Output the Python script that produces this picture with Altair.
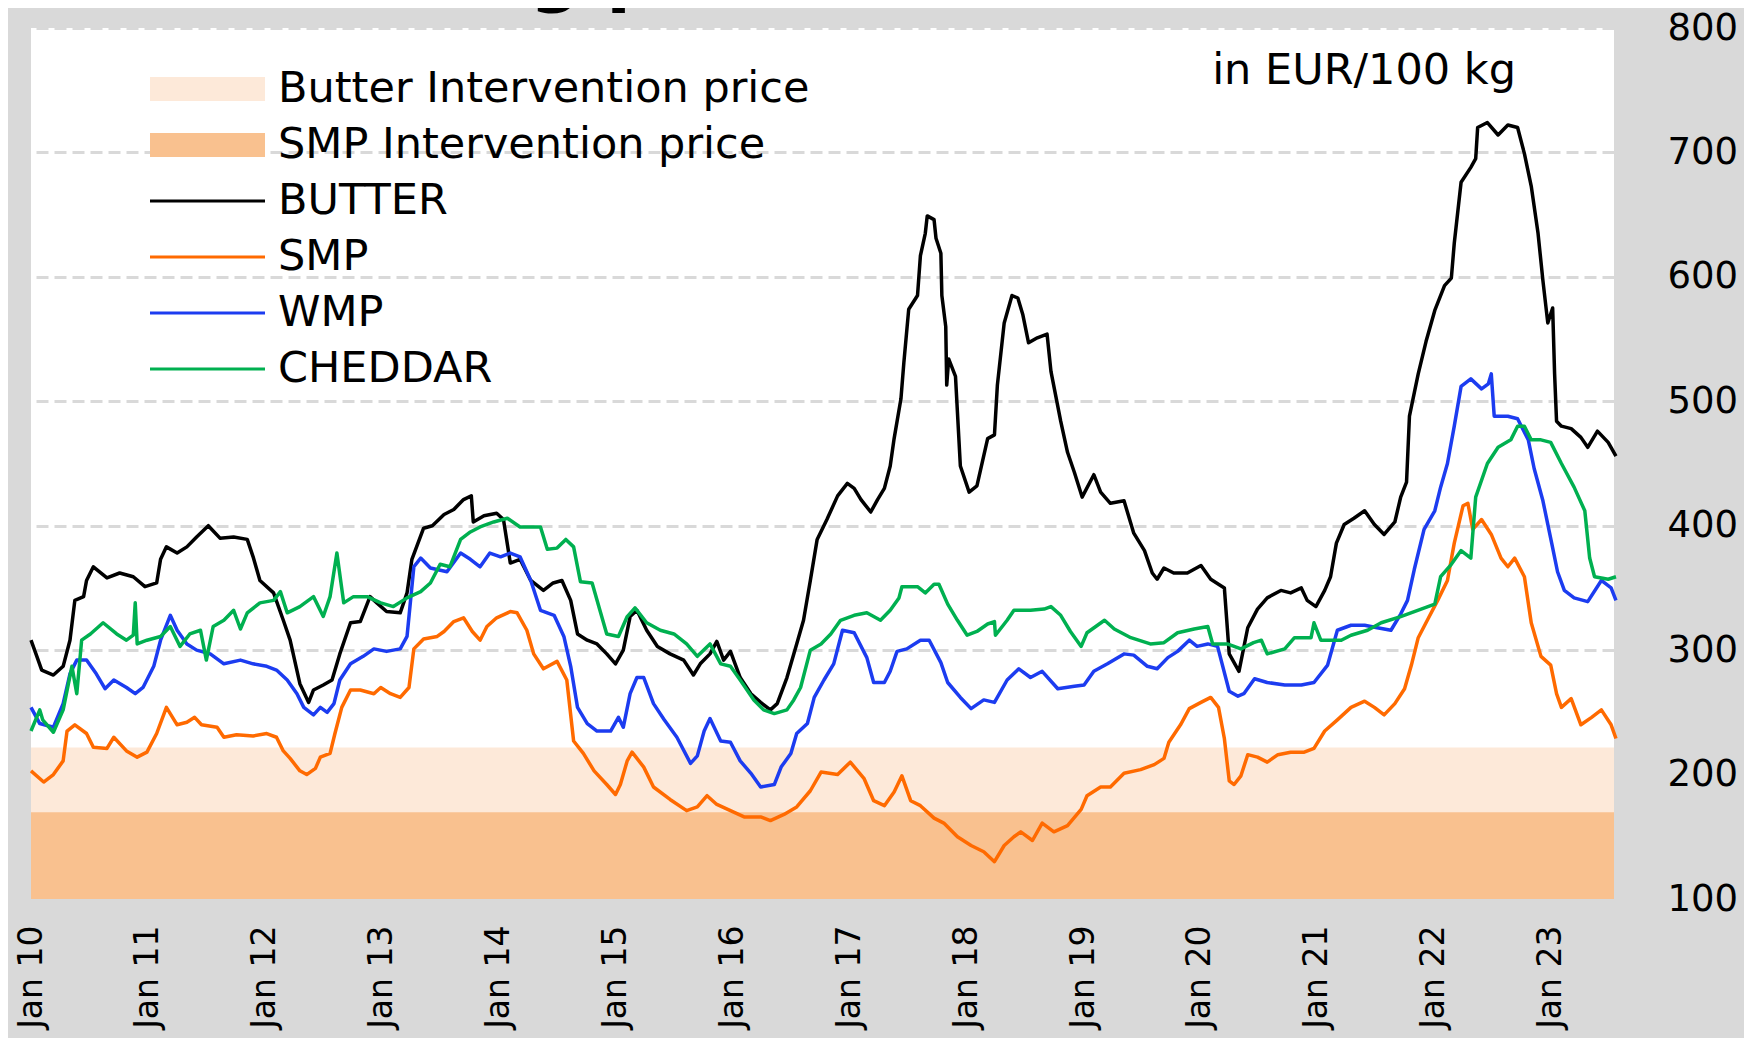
import altair as alt
import numpy as np
import pandas as pd

# ---------------- data (month offsets from Jan 2010, EUR/100 kg) ----------------
butter_m = [0, 0.6, 1.1, 2.3, 3.3, 4, 4.5, 5.4, 5.7, 6.4, 7.8, 9.1, 10.5, 11.7, 12.9, 13.3, 13.9, 15, 16, 17,
            18.2, 19.4, 20.8, 22.2, 22.8, 23.5, 24.9, 25.9, 26.6, 27.6, 28.5, 29, 30, 30.9, 31.7, 32.8, 33.8,
            34.8, 35.5, 36.5, 37.9, 38.6, 39.1, 40.3, 41.2, 42.4, 43.4, 44.4, 45.2, 45.4, 46.5, 47.8, 48.5,
            49.2, 50.2, 51.3, 52.6, 53.6, 54.5, 55.4, 56.1, 57.1, 58.1, 59.1, 60, 60.8, 61.5, 62.2, 63.2,
            64.3, 65.6, 67, 68, 68.7, 69.7, 70.4, 71.1, 71.8, 72.8, 73.9, 74.9, 75.9, 76.6, 77.6, 78.6, 79.3,
            80, 80.7, 81.7, 82.8, 83.8, 84.5, 85.2, 86.2, 86.9, 87.6, 88.2, 88.6, 89.3, 89.6, 90.1, 91, 91.3,
            91.8, 92, 92.7, 92.9, 93.4, 93.5, 93.9, 94.0, 94.2, 94.9, 95.4, 96.3, 97.1, 98.2, 98.9, 99.2,
            99.9, 100.7, 101.3, 101.8, 102.4, 103.3, 104.3, 104.7, 105.7, 106.4, 107.1, 107.9, 109.1, 109.8,
            110.8, 112.2, 113.2, 114.3, 115.1, 115.6, 116.3, 117.3, 118.7, 120.1, 121.1, 122.5, 123, 124,
            124.9, 125.9, 126.9, 128.3, 129.3, 130.4, 131, 131.9, 132.8, 133.4, 134, 134.8, 135.8, 136.9,
            137.9, 138.9, 140, 140.6, 141.2, 141.5, 142, 142.4, 143.2, 144.1, 145.1, 145.8, 146.1, 146.8,
            147.8, 148.3, 148.5, 149.5, 150.6, 151.6, 152.6, 153.3, 154, 154.7, 155.2, 155.7, 156.2, 156.4,
            156.6, 157.1, 158.1, 159.1, 159.8, 160.8, 161.9, 162.7]
butter_v = [308, 295, 284, 280, 287, 308, 340, 343, 356, 367, 358, 362, 359, 351, 354, 373, 383, 378, 383, 391,
            400, 390, 391, 389, 375, 356, 346, 324, 308, 273, 258, 268, 272, 276, 297, 322, 323,
            343, 338, 331, 330, 346, 373, 398, 400, 409, 413, 421, 424, 403, 408, 410, 405,
            370, 373, 356, 348, 354, 356, 340, 313, 308, 305, 297, 289, 300, 327, 332, 316,
            303, 297, 292, 280, 289, 297, 307, 292, 299, 278, 265, 258, 252, 257, 278, 305, 324,
            356, 389, 405, 424, 434, 430, 421, 411, 421, 430, 448, 470, 502, 531, 574, 585, 617,
            635, 649, 646, 631, 619, 585, 560, 513, 534, 520, 448, 427, 432, 470, 473, 513,
            563, 585, 583, 570, 547, 551, 554, 524, 484, 459, 443, 423, 441, 427,
            418, 420, 394, 380, 362, 357, 366, 362, 362, 368, 357, 350, 297, 283,
            318, 333, 342, 348, 346, 350, 340, 335, 348, 359, 386, 401, 406, 412,
            401, 393, 403, 423, 435, 488, 507, 522, 548, 573, 593, 599, 627, 676,
            688, 695, 720, 724, 714, 722, 720, 699, 673, 635, 597, 563, 575, 522,
            484, 480, 478, 471, 463, 476, 467, 456]

smp_m = [0, 1.3, 2.3, 3.3, 3.7, 4.5, 5.7, 6.4, 7.8, 8.5, 9.8, 10.9, 11.9, 12.9, 13.9, 15, 16, 16.8, 17.5,
         19.1, 19.8, 21.1, 22.8, 24.2, 25.2, 25.9, 26.6, 27.6, 28.3, 29.2, 29.7, 30.7, 31.2, 31.9, 32.8,
         33.8, 35.2, 35.9, 36.9, 37.9, 38.8, 39.3, 40.3, 41.7, 42.4, 43.4, 44.4, 45.3, 46.1, 46.8, 47.8,
         49.2, 49.9, 50.9, 51.6, 52.6, 54, 55, 55.7, 56.7, 57.8, 59.1, 60, 60.5, 61.2, 61.7, 62.9, 63.9,
         65.6, 67.3, 68.4, 69.4, 70.4, 71.8, 73.2, 74.9, 75.9, 77.3, 78.6, 80, 81.1, 82.8, 84.1, 85.5,
         86.5, 87.6, 88.6, 89.4, 90.3, 91.3, 92.7, 93.7, 95.1, 96.5, 97.8, 98.9, 99.9, 100.9, 101.6,
         102.8, 103.8, 105, 106.4, 107.8, 108.4, 109.8, 110.8, 112.2, 113.9, 115.3, 116.3, 116.8, 118,
         118.9, 120.1, 121.1, 121.9, 122.5, 123, 123.5, 124.2, 124.9, 125.9, 126.9, 128, 129.3, 130.7,
         131.7, 132.8, 134.1, 135.5, 136.9, 137.9, 138.9, 140, 141, 141.7, 142.4, 143.4, 144.4, 145.4,
         146.1, 147, 147.5, 148, 148.9, 149.9, 150.9, 151.6, 152.3, 153.3, 154, 155, 156, 156.6, 157.1,
         158.1, 159.1, 160.2, 161.2, 162.2, 162.7]
smp_v = [203, 194, 200, 211, 235, 240, 233, 222, 221, 230, 219, 214, 218, 233, 254, 240, 242, 246, 240,
         238, 230, 232, 231, 233, 230, 219, 213, 203, 200, 205, 214, 217, 233, 254, 268,
         268, 265, 270, 265, 262, 270, 301, 309, 311, 315, 323, 326, 315, 308, 319, 326,
         331, 330, 316, 297, 285, 291, 276, 227, 217, 203, 192, 184, 192, 211, 218, 206, 190,
         180, 171, 174, 183, 176, 171, 166, 166, 163, 168, 174, 187, 202, 200, 210, 197,
         179, 175, 186, 199, 179, 175, 165, 161, 150, 143, 138, 130, 143, 150, 154,
         147, 161, 154, 159, 172, 183, 190, 190, 201, 204, 208, 213, 226, 240,
         253, 258, 262, 254, 229, 195, 192, 199, 216, 214, 210, 216, 218, 218,
         221, 235, 244, 254, 259, 254, 248, 257, 269, 288, 310, 325, 340, 356,
         386, 416, 418, 397, 405, 393, 374, 367, 374, 359, 322, 295, 288, 265, 254,
         261, 240, 246, 252, 240, 229]

wmp_m = [0, 0.9, 2.3, 3.3, 4, 4.7, 5.7, 6.7, 7.6, 8.5, 9.8, 10.7, 11.5, 12.6, 13.3, 14.3, 15, 16, 17, 18.4,
         19.8, 21.5, 22.8, 24.2, 25.2, 26.3, 27.3, 28, 29, 29.7, 30.4, 31.1, 31.7, 32.8, 34.1, 35.2, 36.5,
         37.9, 38.6, 39.3, 40, 41, 42.7, 44.1, 45.1, 46.1, 47.1, 48.2, 49.2, 50.2, 51.3, 52.3, 53.7, 54.7,
         55.4, 56.1, 57.1, 58.1, 59.5, 60.3, 60.8, 61.5, 62.2, 62.9, 63.9, 65, 66.3, 67.7, 68.4, 69.1,
         69.7, 70.8, 71.8, 72.8, 73.9, 74.9, 76.3, 77, 78, 78.6, 79.7, 80.4, 81.4, 82.4, 83.3, 84.5, 85.8,
         86.5, 87.6, 88.2, 88.9, 89.9, 91.3, 92.2, 93.4, 94.1, 95.4, 96.5, 97.8, 98.9, 100.2, 101.4,
         102.6, 103.8, 105.4, 107.1, 108.1, 109.1, 110.5, 112.2, 113.2, 114.6, 115.6, 116.7, 117.7,
         118.9, 119.7, 120.8, 121.8, 123, 123.9, 124.5, 125.6, 126.9, 128.7, 130.4, 131.7, 133.1,
         134.1, 135.5, 136.9, 138.2, 139.6, 140.6, 141.3, 142, 143, 144.1, 144.7, 145.4, 146.1, 146.8,
         147.8, 148.9, 149.6, 149.9, 150.2, 151.6, 152.6, 153.7, 154.3, 155.2, 156.1, 156.7, 157.4,
         158.4, 159.8, 161.2, 162.2, 162.7]
wmp_v = [254, 241, 238, 257, 281, 292, 292, 281, 269, 276, 270, 265, 270, 287, 308, 328, 316, 305, 300, 297,
         289, 292, 289, 287, 284, 276, 265, 254, 248, 254, 250, 257, 276, 289, 295, 301, 299,
         301, 311, 367, 374, 366, 363, 378, 373, 367, 378, 375, 378, 375, 356, 332, 328, 311,
         287, 254, 241, 235, 235, 246, 238, 265, 278, 278, 257, 244, 230, 209, 215, 235,
         245, 227, 226, 211, 201, 190, 192, 206, 217, 233, 241, 262, 276, 289, 316, 314, 294,
         274, 274, 283, 299, 301, 308, 308, 290, 274, 262, 253, 260, 258, 276, 285,
         278, 283, 269, 271, 272, 283, 289, 297, 296, 287, 285, 294, 299,
         308, 303, 305, 303, 267, 263, 265, 277, 274, 272, 272, 274, 288,
         316, 320, 320, 318, 316, 329, 340, 365, 397, 412, 431, 450, 480, 512,
         518, 510, 514, 522, 488, 488, 486, 469, 446, 420, 386, 363, 348,
         342, 339, 356, 350, 340]

cheddar_m = [0, 0.9, 1.2, 2.3, 3.3, 4.2, 4.7, 5.2, 6.1, 7.4, 8.8, 9.8, 10.5, 10.7, 10.9, 11.9, 13.3, 14.3,
             15.3, 16.3, 17.4, 18, 18.7, 19.8, 20.8, 21.5, 22.2, 23.5, 24.9, 25.6, 26.3, 27.6, 29, 30,
             30.7, 31.4, 32.1, 33.1, 34.5, 35.9, 37.2, 38.6, 40, 41, 42, 43, 44.1, 45.1, 46.1, 47.5,
             48.9, 50.2, 52.3, 53, 54, 54.9, 55.7, 56.4, 57.6, 58.4, 59.1, 60.3, 61.2, 62, 63.2, 64.6,
             66, 67.3, 68.4, 69.7, 70.8, 71.8, 72.8, 74.2, 75.2, 76.3, 77.6, 78.3, 79, 80, 81.1, 82.1,
             83.1, 84.5, 85.8, 87.2, 88.2, 89.1, 89.4, 91, 91.8, 92.7, 93.2, 94.1, 95.1, 96.1, 97.1,
             98.2, 98.9, 99, 100.2, 100.9, 102.6, 104, 104.7, 105.7, 106.7, 107.8, 108.4, 110.2, 111.2,
             112.9, 114.9, 116.3, 117.7, 119.4, 120.8, 121.3, 122.8, 124.2, 125.5, 126.3, 126.9, 128.7,
             129.7, 131.4, 131.7, 132.4, 134.5, 135.5, 137.2, 138.6, 140.6, 142.7, 144.1, 144.7, 145.8,
             146.8, 147.8, 148.3, 149.5, 150.6, 151.9, 152.6, 153.3, 154, 155, 156, 157.1, 158.4, 159.5,
             160, 160.5, 161.9, 162.7]
cheddar_v = [235, 252, 244, 234, 252, 287, 265, 308, 313, 322, 313, 308, 312, 338, 305, 308, 311, 319,
             303, 313, 316, 292, 319, 324, 332, 317, 330, 338, 340, 347, 330, 335, 343, 327,
             343, 378, 338, 343, 343, 338, 335, 342, 347, 354, 369, 367, 389, 395, 399, 403,
             406, 399, 399, 381, 382, 389, 383, 355, 354, 332, 313, 311, 327, 334, 322, 316,
             313, 305, 295, 305, 289, 287, 276, 260, 252, 249, 252, 260, 270, 300, 305, 313,
             324, 328, 330, 324, 332, 342, 351, 351, 346, 353, 353, 337, 324, 312, 315,
             321, 323, 312, 324, 332, 332, 333, 335, 328, 315, 303, 314, 324, 317,
             310, 305, 306, 314, 317, 319, 305, 305, 301, 306, 308, 297, 301,
             310, 310, 322, 308, 308, 312, 316, 322, 327, 333, 337, 359, 369,
             380, 374, 423, 450, 463, 469, 480, 480, 469, 469, 467, 450, 431, 412,
             374, 359, 357, 359]

butter_intervention_price = 221.75
smp_intervention_price = 169.8

series_names = ["BUTTER", "SMP", "WMP", "CHEDDAR"]
series_colors = ["#000000", "#ff6a00", "#1c3cf0", "#00b050"]
band_names = ["Butter Intervention price", "SMP Intervention price"]
band_colors = ["#fde9d9", "#f9c18f"]
legend_labels = band_names + series_names
legend_colors = band_colors + series_colors
y_ticks = [100, 200, 300, 400, 500, 600, 700, 800]
tick_years = list(range(2010, 2024))
unit_text = "in EUR/100 kg"
title_text = "EU selling prices"

# ---------------- build tables ----------------
BASE = pd.Timestamp("2010-01-01")
FMT = "%Y-%m-%dT%H:%M:%S"


def to_dates(months):
    return (BASE + pd.to_timedelta(np.asarray(months, float) * 30.4375, unit="D")).strftime(FMT)


frames = []
for name, m, v in [("BUTTER", butter_m, butter_v), ("SMP", smp_m, smp_v),
                   ("WMP", wmp_m, wmp_v), ("CHEDDAR", cheddar_m, cheddar_v)]:
    frames.append(pd.DataFrame({"date": to_dates(m), "value": v, "series": name}))
lines_df = pd.concat(frames, ignore_index=True)

x_start = alt.DateTime(year=2010, month=1, date=1)
x_end = alt.DateTime(year=2023, month=7, date=18)
start_str = "2010-01-01T00:00:00"
end_str = "2023-07-18T00:00:00"

bands_df = pd.DataFrame({
    "start": [start_str, start_str],
    "end": [end_str, end_str],
    "low": [100, 100],
    "high": [butter_intervention_price, smp_intervention_price],
    "name": band_names,
})

# ---------------- layout ----------------
W, H = 1583, 871
TEXT_FONT = "DejaVu Sans"

x_axis = alt.Axis(values=[alt.DateTime(year=y, month=1, date=1) for y in tick_years],
                  format="%b %y", labelAngle=-90, labelFont=TEXT_FONT, labelFontSize=33,
                  labelColor="black", labelPadding=26, ticks=False, tickSize=0, domain=False,
                  grid=False, labelOverlap=False, labelFlush=False, title=None)
y_axis = alt.Axis(values=y_ticks, orient="right", labelFont=TEXT_FONT, labelFontSize=37,
                  labelColor="black", labelPadding=53, ticks=False, tickSize=0, domain=False,
                  grid=True, gridColor="#d9d9d9", gridWidth=3, gridDash=[12, 6], title=None,
                  labelAlign="left", labelBaseline="middle")

x_scale = alt.Scale(domain=[x_start, x_end])
y_scale = alt.Scale(domain=[100, 800], nice=False, zero=False)

bands = alt.Chart(bands_df).mark_rect(clip=True).encode(
    x=alt.X("start:T", scale=x_scale, axis=x_axis),
    x2="end:T",
    y=alt.Y("low:Q", scale=y_scale, axis=y_axis),
    y2="high:Q",
    color=alt.Color("name:N", scale=alt.Scale(domain=band_names, range=band_colors), legend=None),
)

line_layers = []
for name, col in zip(series_names, series_colors):
    line_layers.append(
        alt.Chart(lines_df).transform_filter(alt.datum.series == name).mark_line(
            color=col, strokeWidth=3.5, strokeJoin="round").encode(
            x=alt.X("date:T", scale=x_scale, axis=x_axis),
            y=alt.Y("value:Q", scale=y_scale, axis=y_axis),
        )
    )

# legend (drawn manually)
row0, row_step = 61, 56
sw_x0, sw_x1, txt_x = 119, 234, 247
leg_df = pd.DataFrame({"label": legend_labels, "col": legend_colors,
                       "row": list(range(len(legend_labels)))})
leg_df["ly"] = row0 + row_step * leg_df["row"]
leg_df["ly0"] = leg_df["ly"] - 12
leg_df["ly1"] = leg_df["ly"] + 12
leg_df["lx0"] = sw_x0
leg_df["lx1"] = sw_x1
leg_df["tx"] = txt_x

leg_rects = alt.Chart(leg_df).transform_filter("datum.row < 2").mark_rect().encode(
    x=alt.X("lx0:Q", scale=None), x2="lx1:Q",
    y=alt.Y("ly0:Q", scale=None), y2="ly1:Q",
    color=alt.Color("col:N", scale=None),
)
leg_rules = alt.Chart(leg_df).transform_filter("datum.row >= 2").mark_rule(strokeWidth=3).encode(
    x=alt.X("lx0:Q", scale=None), x2="lx1:Q",
    y=alt.Y("ly:Q", scale=None),
    color=alt.Color("col:N", scale=None),
)
leg_text = alt.Chart(leg_df).mark_text(align="left", baseline="middle", font=TEXT_FONT,
                                       fontSize=43, color="black").encode(
    x=alt.X("tx:Q", scale=None),
    y=alt.Y("ly:Q", scale=None),
    text="label:N",
)

unit_label = alt.Chart(pd.DataFrame({"t": [unit_text]})).mark_text(
    align="right", baseline="middle", font=TEXT_FONT, fontSize=43, color="black").encode(
    x=alt.value(1485), y=alt.value(43), text="t:N")

title_mark = alt.Chart(pd.DataFrame({"t": [title_text]})).mark_text(
    align="left", baseline="alphabetic", font=TEXT_FONT, fontSize=72, fontWeight="bold",
    color="black").encode(x=alt.value(149), y=alt.value(-30), text="t:N")

chart = alt.layer(bands, *line_layers, leg_rects, leg_rules, leg_text, unit_label, title_mark).properties(
    width=W, height=H,
    autosize=alt.AutoSizeParams(type="none"),
    padding={"left": 23, "top": 20, "right": 130, "bottom": 139},
    background="#d9d9d9",
).configure_view(fill="white", strokeWidth=0)

chart.save("out.html", embed_options={"renderer": "svg", "actions": False})
